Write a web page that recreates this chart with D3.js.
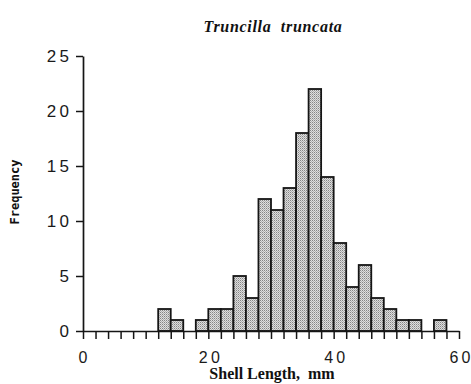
<!DOCTYPE html>
<html>
<head>
<meta charset="utf-8">
<script src="https://cdn.jsdelivr.net/npm/d3@7"></script>
<style>
  html, body { margin: 0; padding: 0; background: #fff; }
  svg { display: block; }
</style>
</head>
<body>
<svg id="chart" width="471" height="384"></svg>
<script>
// Shell length bins (mm, lower edge) and their frequencies
const binStarts = [0, 2, 4, 6, 8, 10, 12, 14, 16, 18, 20, 22, 24, 26, 28, 30, 32, 34, 36, 38, 40, 42, 44, 46, 48, 50, 52, 54, 56, 58];
const frequencies = [0, 0, 0, 0, 0, 0, 2, 1, 0, 1, 2, 2, 5, 3, 12, 11, 13, 18, 22, 14, 8, 4, 6, 3, 2, 1, 1, 0, 1, 0];
const binWidth = 2;
const yTicks = [0, 5, 10, 15, 20, 25];
const xTicks = d3.range(0, 61, 2);
const xTickLabels = [0, 20, 40, 60];
const title = "Truncilla  truncata";
const xTitle = "Shell Length,  mm";
const yTitle = "Frequency";

const svg = d3.select("#chart");

const x = d3.scaleLinear().domain([0, 60]).range([83, 459]);
const y = d3.scaleLinear().domain([0, 25]).range([331, 56]);

// stippled grey fill for the bars
const defs = svg.append("defs");
const pat = defs.append("pattern")
  .attr("id", "stipple")
  .attr("patternUnits", "userSpaceOnUse")
  .attr("width", 2).attr("height", 2);
pat.append("rect").attr("width", 2).attr("height", 2).attr("fill", "#dedede");
pat.append("rect").attr("x", 0).attr("y", 0).attr("width", 1).attr("height", 1).attr("fill", "#858585");
pat.append("rect").attr("x", 1).attr("y", 1).attr("width", 1).attr("height", 1).attr("fill", "#b0b0b0");

// bars
svg.append("g")
  .selectAll("rect")
  .data(binStarts.map((b, i) => ({ b, f: frequencies[i] })).filter(d => d.f > 0))
  .join("rect")
  .attr("x", d => x(d.b))
  .attr("y", d => y(d.f))
  .attr("width", d => x(d.b + binWidth) - x(d.b))
  .attr("height", d => y(0) - y(d.f))
  .attr("fill", "url(#stipple)")
  .attr("stroke", "#151515")
  .attr("stroke-width", 1.8);

const tickFont = "'Liberation Sans', Arial, sans-serif";
const spaced = d => String(d).split("").join("\u2009");

// y axis
const yAxis = svg.append("g")
  .attr("transform", `translate(${x(0)},0)`)
  .call(d3.axisLeft(y).tickValues(yTicks).tickSize(7).tickSizeOuter(0).tickFormat(""));
yAxis.select(".domain").attr("stroke", "#151515").attr("stroke-width", 1.7);
yAxis.selectAll(".tick line").attr("stroke", "#151515").attr("stroke-width", 1.5);

svg.append("g")
  .selectAll("text")
  .data(yTicks)
  .join("text")
  .attr("x", 69)
  .attr("y", d => y(d))
  .attr("dy", "0.36em")
  .attr("text-anchor", "end")
  .attr("font-family", tickFont)
  .attr("font-size", 17)
  .attr("fill", "#1a1a1a")
  .text(spaced);

// x axis
const xAxis = svg.append("g")
  .attr("transform", `translate(0,${y(0)})`)
  .call(d3.axisBottom(x).tickValues(xTicks).tickSize(8).tickSizeOuter(0).tickFormat(""));
xAxis.select(".domain").attr("stroke", "#151515").attr("stroke-width", 1.7);
xAxis.selectAll(".tick line").attr("stroke", "#151515").attr("stroke-width", 1.5);

svg.append("g")
  .selectAll("text")
  .data(xTickLabels)
  .join("text")
  .attr("x", d => x(d) + (d === 0 ? 0 : 1))
  .attr("y", 363)
  .attr("text-anchor", "middle")
  .attr("font-family", tickFont)
  .attr("font-size", 16)
  .attr("fill", "#1a1a1a")
  .text(spaced);

// title
svg.append("text")
  .attr("x", 273)
  .attr("y", 32)
  .attr("text-anchor", "middle")
  .attr("font-family", "'Liberation Serif', 'DejaVu Serif', serif")
  .attr("font-style", "italic")
  .attr("font-weight", "bold")
  .attr("font-size", 16)
  .attr("letter-spacing", 0.7)
  .attr("fill", "#111")
  .style("white-space", "pre")
  .text(title);

// axis titles
svg.append("text")
  .attr("x", 272)
  .attr("y", 379)
  .attr("text-anchor", "middle")
  .attr("font-family", "'Liberation Serif', 'DejaVu Serif', serif")
  .attr("font-weight", "bold")
  .attr("font-size", 16)
  .attr("fill", "#111")
  .style("white-space", "pre")
  .text(xTitle);

svg.append("text")
  .attr("transform", "translate(19,192) rotate(-90)")
  .attr("text-anchor", "middle")
  .attr("font-family", "'DejaVu Sans Mono', 'Liberation Mono', monospace")
  .attr("font-weight", "bold")
  .attr("font-size", 12)
  .attr("fill", "#111")
  .text(yTitle);
</script>
</body>
</html>
